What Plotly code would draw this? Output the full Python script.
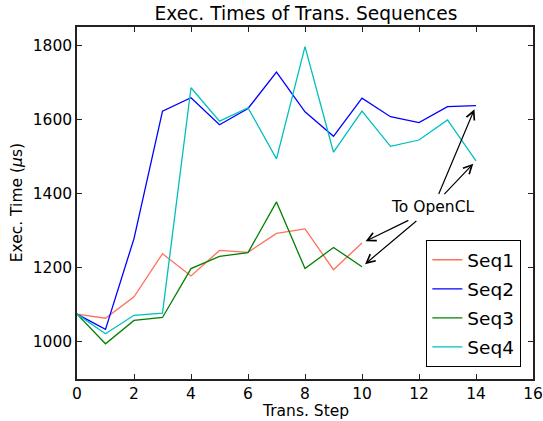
import plotly.graph_objects as go

steps_long = list(range(15))
steps_short = list(range(11))
seq1 = [1075, 1064, 1122, 1238, 1178, 1247, 1242, 1293, 1305, 1195, 1267]
seq2 = [1075, 1034, 1279, 1623, 1659, 1586, 1630, 1728, 1621, 1555, 1658, 1608, 1592, 1635, 1638]
seq3 = [1075, 995, 1058, 1066, 1198, 1231, 1241, 1378, 1198, 1255, 1203]
seq4 = [1075, 1022, 1072, 1078, 1686, 1596, 1632, 1494, 1797, 1512, 1623, 1528, 1545, 1599, 1489]
x_ticks = [0, 2, 4, 6, 8, 10, 12, 14, 16]
y_ticks = [1000, 1200, 1400, 1600, 1800]

FONT = "DejaVu Sans"
fig = go.Figure()
fig.add_trace(go.Scatter(x=steps_short, y=seq1, mode="lines", name="Seq1", legendgroup="a",
                         line=dict(color="#FF6F5B", width=1.3)))
fig.add_trace(go.Scatter(x=steps_long, y=seq2, mode="lines", name="Seq2", legendgroup="b",
                         line=dict(color="#0000FF", width=1.3)))
fig.add_trace(go.Scatter(x=steps_short, y=seq3, mode="lines", name="Seq3", legendgroup="c",
                         line=dict(color="#008000", width=1.3)))
fig.add_trace(go.Scatter(x=steps_long, y=seq4, mode="lines", name="Seq4", legendgroup="d",
                         line=dict(color="#00BFBF", width=1.3)))

# annotation text
fig.add_annotation(x=12.46, y=1365, text="To OpenCL", showarrow=False,
                   font=dict(family=FONT, size=15.5, color="black"))
# arrows: (head_x, head_y, tail_x, tail_y)
arrows = [
    (14, seq2[14], 12.67, 1395),
    (14, seq4[14], 12.84, 1395),
    (10, seq1[10], 11.68, 1330),
    (10, seq3[10], 11.96, 1330),
]
for hx, hy, tx, ty in arrows:
    fig.add_annotation(x=hx, y=hy, ax=tx, ay=ty, xref="x", yref="y",
                       axref="x", ayref="y", text="", showarrow=True,
                       arrowhead=5, arrowsize=1.4, arrowwidth=1.2,
                       arrowcolor="black", standoff=4)

# axis titles
fig.add_annotation(x=0.5, y=-0.092, xref="paper", yref="paper", text="Trans. Step",
                   showarrow=False, xanchor="center", yanchor="middle",
                   font=dict(family=FONT, size=15.5, color="black"))
fig.add_annotation(x=-0.1316, y=0.502, xref="paper", yref="paper", text="Exec. Time (<i>μ</i>s)",
                   showarrow=False, xanchor="center", yanchor="middle", textangle=-90,
                   font=dict(family=FONT, size=15.5, color="black"))

axis_common = dict(showgrid=False, zeroline=False, showline=True, linecolor="#222222",
                   linewidth=1.5, mirror="ticks", ticks="inside", ticklen=5,
                   tickcolor="#222222", automargin=False,
                   tickfont=dict(family=FONT, size=15.5, color="black"))
fig.update_xaxes(range=[0, 16], tickvals=x_ticks, **axis_common)
fig.update_yaxes(range=[900, 1850], tickvals=y_ticks, **axis_common)
fig.update_layout(
    width=543, height=421,
    margin=dict(l=77, r=10, t=27, b=42, autoexpand=False),
    paper_bgcolor="white", plot_bgcolor="white",
    title=dict(text="Exec. Times of Trans. Sequences", x=306 / 543, xanchor="center",
               y=0.969, yanchor="middle", font=dict(family=FONT, size=18.6, color="black")),
    legend=dict(x=0.974, y=0.034, xanchor="right", yanchor="bottom",
                bordercolor="black", borderwidth=1.2, bgcolor="white",
                font=dict(family=FONT, size=18.5, color="black"),
                tracegroupgap=2, itemwidth=30),
    showlegend=True,
)
fig.write_html("out.html", config={"displayModeBar": False},
               post_script="document.body.style.margin='0px';document.body.style.padding='0px';"
                           "document.documentElement.style.overflow='hidden';")
